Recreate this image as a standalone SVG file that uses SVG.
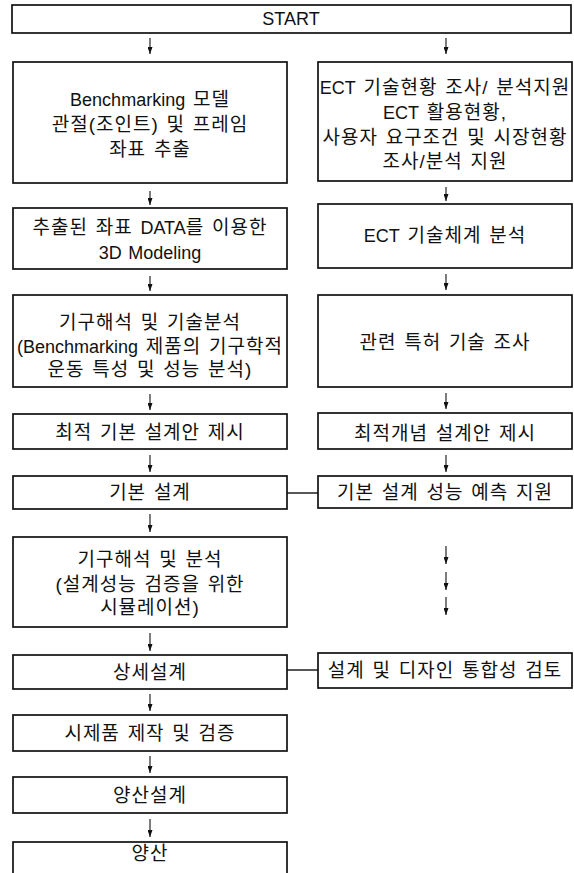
<svg xmlns="http://www.w3.org/2000/svg" width="574" height="873" viewBox="0 0 574 873">
<style>
.box{fill:#fff;stroke:#111;stroke-width:1.7}
.t{font-family:"Liberation Sans","Noto Sans CJK KR",sans-serif;font-size:19px;letter-spacing:1px;word-spacing:1.5px;fill:#111;text-anchor:middle}
.l{font-size:18px;letter-spacing:0}
.ar{stroke:#111;stroke-width:1.1;fill:none;marker-end:url(#ah)}
.ln{stroke:#111;stroke-width:1.4;fill:none}
</style>
<defs>
<marker id="ah" viewBox="0 0 7 5" refX="7" refY="2.5" markerWidth="7" markerHeight="5" markerUnits="userSpaceOnUse" orient="auto">
<path d="M0,0 L7,2.5 L0,5 Z" fill="#111"/>
</marker>
</defs>
<rect width="574" height="873" fill="#fff"/>
<g id="connectors">
<line class="ar" x1="150" y1="38" x2="150" y2="54"/>
<line class="ar" x1="446" y1="38" x2="446" y2="54"/>
<line class="ar" x1="150" y1="191" x2="150" y2="205"/>
<line class="ar" x1="446" y1="187" x2="446" y2="201"/>
<line class="ar" x1="150" y1="276" x2="150" y2="291"/>
<line class="ar" x1="446" y1="274" x2="446" y2="290"/>
<line class="ar" x1="150" y1="394" x2="150" y2="410"/>
<line class="ar" x1="446" y1="393" x2="446" y2="409"/>
<line class="ar" x1="150" y1="455" x2="150" y2="472"/>
<line class="ar" x1="446" y1="455" x2="446" y2="472"/>
<line class="ar" x1="150" y1="514" x2="150" y2="532"/>
<line class="ar" x1="446" y1="546" x2="446" y2="564"/>
<line class="ar" x1="446" y1="572" x2="446" y2="590"/>
<line class="ar" x1="446" y1="597" x2="446" y2="615"/>
<line class="ar" x1="150" y1="633" x2="150" y2="651"/>
<line class="ar" x1="150" y1="694" x2="150" y2="711"/>
<line class="ar" x1="150" y1="756" x2="150" y2="773"/>
<line class="ar" x1="150" y1="819" x2="150" y2="837"/>
<line class="ln" x1="287" y1="493" x2="318" y2="493"/>
<line class="ln" x1="287" y1="670" x2="318" y2="670"/>
</g>
<g id="start"><rect class="box" x="12" y="5" width="559" height="28"/><text class="t" x="291" y="25"><tspan class="l">START</tspan></text></g>
<g id="l1"><rect class="box" x="13" y="62" width="274" height="121"/>
<text class="t" x="150" y="106"><tspan class="l">Benchmarking</tspan> 모델</text>
<text class="t" x="150" y="131">관절(조인트) 및 프레임</text>
<text class="t" x="150" y="156">좌표 추출</text></g>
<g id="r1"><rect class="box" x="318" y="62" width="254" height="119"/>
<text class="t" x="445" y="94"><tspan class="l">ECT</tspan> 기술현황 조사/ 분석지원</text>
<text class="t" x="445" y="119"><tspan class="l">ECT</tspan> 활용현황,</text>
<text class="t" x="445" y="144">사용자 요구조건 및 시장현황</text>
<text class="t" x="445" y="168">조사/분석 지원</text></g>
<g id="l2"><rect class="box" x="13" y="208" width="274" height="61"/>
<text class="t" x="150" y="234">추출된 좌표 <tspan class="l">DATA</tspan>를 이용한</text>
<text class="t" x="150" y="259"><tspan class="l">3D Modeling</tspan></text></g>
<g id="r2"><rect class="box" x="318" y="204" width="254" height="64"/>
<text class="t" x="445" y="242"><tspan class="l">ECT</tspan> 기술체계 분석</text></g>
<g id="l3"><rect class="box" x="13" y="295" width="274" height="92"/>
<text class="t" x="150" y="329">기구해석 및 기술분석</text>
<text class="t" x="150" y="353"><tspan class="l">(Benchmarking</tspan> 제품의 기구학적</text>
<text class="t" x="150" y="376">운동 특성 및 성능 분석)</text></g>
<g id="r3"><rect class="box" x="318" y="295" width="254" height="92"/>
<text class="t" x="445" y="349">관련 특허 기술 조사</text></g>
<g id="l4"><rect class="box" x="13" y="414" width="274" height="35"/>
<text class="t" x="150" y="439">최적 기본 설계안 제시</text></g>
<g id="r4"><rect class="box" x="318" y="413" width="254" height="36"/>
<text class="t" x="445" y="440">최적개념 설계안 제시</text></g>
<g id="l5"><rect class="box" x="13" y="476" width="274" height="33"/>
<text class="t" x="150" y="499">기본 설계</text></g>
<g id="r5"><rect class="box" x="318" y="476" width="254" height="32"/>
<text class="t" x="445" y="499">기본 설계 성능 예측 지원</text></g>
<g id="l6"><rect class="box" x="13" y="537" width="274" height="90"/>
<text class="t" x="150" y="566">기구해석 및 분석</text>
<text class="t" x="150" y="591">(설계성능 검증을 위한</text>
<text class="t" x="150" y="614">시뮬레이션)</text></g>
<g id="l7"><rect class="box" x="13" y="655" width="274" height="34"/>
<text class="t" x="150" y="679">상세설계</text></g>
<g id="r7"><rect class="box" x="318" y="653" width="254" height="35"/>
<text class="t" x="445" y="677">설계 및 디자인 통합성 검토</text></g>
<g id="l8"><rect class="box" x="13" y="715" width="274" height="36"/>
<text class="t" x="150" y="740">시제품 제작 및 검증</text></g>
<g id="l9"><rect class="box" x="13" y="777" width="274" height="36"/>
<text class="t" x="150" y="802">양산설계</text></g>
<g id="l10"><rect class="box" x="13" y="842" width="274" height="40"/>
<text class="t" x="150" y="860">양산</text></g>
</svg>
